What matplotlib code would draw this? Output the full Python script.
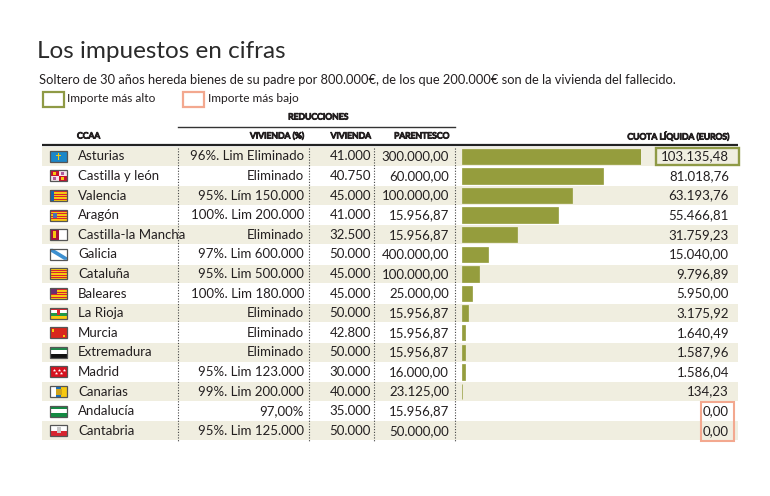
import matplotlib
matplotlib.use("Agg")
import matplotlib.pyplot as plt
import matplotlib.patheffects as pe
from matplotlib.patches import Rectangle, Polygon

plt.rcParams['font.family'] = ['Lato', 'DejaVu Sans']

# ---------------- data ----------------
ccaa = ["Asturias", "Castilla y león", "Valencia", "Aragón", "Castilla-la Mancha",
        "Galicia", "Cataluña", "Baleares", "La Rioja", "Murcia", "Extremadura",
        "Madrid", "Canarias", "Andalucía", "Cantabria"]
viv_pct = ["96%. Lim Eliminado", "Eliminado", "95%. Lím 150.000", "100%. Lim 200.000",
           "Eliminado", "97%. Lim 600.000", "95%. Lim 500.000", "100%. Lim 180.000",
           "Eliminado", "Eliminado", "Eliminado", "95%. Lim 123.000", "99%. Lim 200.000",
           "97,00%", "95%. Lim 125.000"]
vivienda = ["41.000", "40.750", "45.000", "41.000", "32.500", "50.000", "45.000", "45.000",
            "50.000", "42.800", "50.000", "30.000", "40.000", "35.000", "50.000"]
parentesco = ["300.000,00", "60.000,00", "100.000,00", "15.956,87", "15.956,87",
              "400.000,00", "100.000,00", "25.000,00", "15.956,87", "15.956,87",
              "15.956,87", "16.000,00", "23.125,00", "15.956,87", "50.000,00"]
cuota = [103135.48, 81018.76, 63193.76, 55466.81, 31759.23, 15040.00, 9796.89, 5950.00,
         3175.92, 1640.49, 1587.96, 1586.04, 134.23, 0.00, 0.00]

title = "Los impuestos en cifras"
subtitle = ("Soltero de 30 años hereda bienes de su padre por 800.000€, "
            "de los que 200.000€ son de la vivienda del fallecido.")

def fmt_es(v):
    s = f"{v:,.2f}"
    return s.replace(",", "X").replace(".", ",").replace("X", ".")

# ---------------- styles ----------------
W, H = 770, 496
TXT = "#231f20"
BEIGE = "#f0eee0"
BAR = "#959d3d"
GREEN = "#8f9a45"
PINK = "#f3a88f"

fig = plt.figure(figsize=(W / 100, H / 100), dpi=100)
fig.patch.set_facecolor("white")
ax = fig.add_axes([0, 0, 1, 1])
ax.set_xlim(0, W)
ax.set_ylim(H, 0)
ax.axis("off")

n = len(ccaa)
row_top = 146.5
rh = 19.6
def yc(i):
    return row_top + rh * (i + 0.5)

# title / subtitle
ax.text(37, 52, title, fontsize=17.5, fontweight="normal", color="#2a2a2a", va="center", ha="left")
ax.text(39, 80, subtitle, fontsize=9.3, color=TXT, va="center", ha="left")

# legend
ax.add_patch(Rectangle((42.5, 91.5), 21, 15, fill=False, ec=GREEN, lw=1.6))
ax.text(67, 99, "Importe más alto", fontsize=8.6, color=TXT, va="center", ha="left")
ax.add_patch(Rectangle((182.5, 91.5), 21, 15, fill=False, ec=PINK, lw=1.6))
ax.text(208, 99, "Importe más bajo", fontsize=8.6, color=TXT, va="center", ha="left")

# headers (heavy look via a thin stroke)
bold_fx = [pe.withStroke(linewidth=0.75, foreground=TXT)]
hkw = dict(fontsize=6.2, color=TXT, va="center", path_effects=bold_fx)
ax.text(318, 117, "REDUCCIONES", ha="center", **hkw)
ax.plot([178, 455], [126.5, 126.5], color="#333333", lw=1.0)
ax.text(77, 136, "CCAA", ha="left", **hkw)
ax.text(304, 136, "VIVIENDA (%)", ha="right", **hkw)
ax.text(371, 136, "VIVIENDA", ha="right", **hkw)
ax.text(449, 136, "PARENTESCO", ha="right", **hkw)
ax.text(729, 136, "CUOTA LÍQUIDA (EUROS)", ha="right", **hkw)
ax.plot([42, 738], [145, 145], color="#222222", lw=1.6, solid_capstyle="butt")

# row shading
for i in range(n):
    if i % 2 == 0:
        ax.add_patch(Rectangle((42, row_top + rh * i + 0.5), 696, rh - 1.0, fc=BEIGE, ec="none", zorder=0))

# dotted separators
for x in [178, 309, 374, 455]:
    ax.plot([x, x], [row_top + 1, row_top + rh * n], color="#444444", lw=0.8,
            ls=(0, (1, 1.5)), zorder=2)

# flags
def stripes(x, y, w, h, cols, vertical=False):
    k = len(cols)
    for j, c in enumerate(cols):
        if vertical:
            ax.add_patch(Rectangle((x + w * j / k, y), w / k, h, fc=c, ec="none", zorder=3))
        else:
            ax.add_patch(Rectangle((x, y + h * j / k), w, h / k, fc=c, ec="none", zorder=3))

def flag(name, i):
    w, h = 17, 11
    x = 50
    y = yc(i) - h / 2
    R, Y, WH = "#d8242f", "#f7c90f", "white"
    if name == "Asturias":
        stripes(x, y, w, h, ["#1b87c9"])
        ax.add_patch(Rectangle((x + 7.5, y + 2), 1.6, 7, fc=Y, ec="none", zorder=4))
        ax.add_patch(Rectangle((x + 5.5, y + 4), 5.6, 1.5, fc=Y, ec="none", zorder=4))
    elif name == "Castilla y león":
        for (dx, dy, c) in [(0, 0, "#c8102e"), (w / 2, 0, "#f4e4ea"), (0, h / 2, "#f4e4ea"), (w / 2, h / 2, "#c8102e")]:
            ax.add_patch(Rectangle((x + dx, y + dy), w / 2, h / 2, fc=c, ec="none", zorder=3))
        ax.add_patch(Rectangle((x + 2.5, y + 1.5), 3, 3, fc=Y, ec="none", zorder=4))
        ax.add_patch(Rectangle((x + 11, y + 6.5), 3, 3, fc=Y, ec="none", zorder=4))
        ax.add_patch(Rectangle((x + 11, y + 1.5), 3, 3, fc="#b05a9a", ec="none", zorder=4))
        ax.add_patch(Rectangle((x + 2.5, y + 6.5), 3, 3, fc="#b05a9a", ec="none", zorder=4))
    elif name == "Valencia":
        stripes(x, y, w, h, [Y, R, Y, R, Y, R, Y, R, Y])
        ax.add_patch(Rectangle((x, y), 4, h, fc="#1565b0", ec="none", zorder=4))
    elif name == "Aragón":
        stripes(x, y, w, h, [Y, R, Y, R, Y, R, Y, R, Y])
        ax.add_patch(Rectangle((x + 3, y + 3), 4, 5, fc="#4a6fb5", ec="none", zorder=4))
    elif name == "Castilla-la Mancha":
        stripes(x, y, w, h, ["#a8123e", WH], vertical=True)
        ax.add_patch(Rectangle((x + 2.5, y + 2), 3.5, 7, fc=Y, ec="none", zorder=4))
    elif name == "Galicia":
        stripes(x, y, w, h, [WH])
        ax.add_patch(Polygon([(x, y), (x + 3, y), (x + w, y + h - 2.5), (x + w, y + h),
                              (x + w - 3, y + h), (x, y + 2.5)], closed=True,
                             fc="#3b8fd0", ec="none", zorder=4))
    elif name == "Cataluña":
        stripes(x, y, w, h, [Y, R, Y, R, Y, R, Y, R, Y])
    elif name == "Baleares":
        stripes(x, y, w, h, [Y, R, Y, R, Y, R, Y, R, Y])
        ax.add_patch(Rectangle((x, y), 7, 5.5, fc="#6b2d6e", ec="none", zorder=4))
    elif name == "La Rioja":
        stripes(x, y, w, h, [R, WH, "#1e9a48", Y])
        ax.add_patch(Rectangle((x + 7, y + 2), 3, 5, fc="#d8242f", ec="none", zorder=4))
    elif name == "Murcia":
        stripes(x, y, w, h, ["#d9261c"])
        ax.add_patch(Rectangle((x + 1.5, y + 1.5), 2, 3, fc=Y, ec="none", zorder=4))
        ax.add_patch(Rectangle((x + 13, y + 7.5), 2, 2, fc=Y, ec="none", zorder=4))
    elif name == "Extremadura":
        stripes(x, y, w, h, ["#1f8a4a", WH, "#111111"])
    elif name == "Madrid":
        stripes(x, y, w, h, ["#d6121f"])
        for s in range(5):
            ax.plot(x + 3.5 + s * 2.5, y + 4 + (s % 2) * 2.5, marker="*", ms=2.5,
                    color="white", mec="none", zorder=4)
    elif name == "Canarias":
        stripes(x, y, w, h, [WH, "#1b6fb8", Y], vertical=True)
        ax.add_patch(Rectangle((x + 5.5, y + 2.5), 6, 6, fc="#cfa31b", ec="none", zorder=4))
    elif name == "Andalucía":
        stripes(x, y, w, h, ["#138a42", WH, "#138a42"])
    elif name == "Cantabria":
        stripes(x, y, w, h, [WH, "#d8242f"])
        ax.add_patch(Rectangle((x + 6.5, y + 2), 4, 6, fc="#c8c8c8", ec="none", zorder=4))
    ax.add_patch(Rectangle((x, y), w, h, fill=False, ec="#555555", lw=0.9, zorder=5))

rfs = 9.5
for i in range(n):
    y = yc(i)
    flag(ccaa[i], i)
    ax.text(78, y, ccaa[i], fontsize=rfs, color=TXT, ha="left", va="center")
    ax.text(304, y, viv_pct[i], fontsize=rfs, color=TXT, ha="right", va="center")
    ax.text(371, y, vivienda[i], fontsize=rfs, color=TXT, ha="right", va="center")
    ax.text(449, y, parentesco[i], fontsize=rfs, color=TXT, ha="right", va="center")
    ax.text(729, y, fmt_es(cuota[i]), fontsize=rfs, color=TXT, ha="right", va="center")

# highlight boxes
imax = max(range(n), key=lambda k: cuota[k])
ax.add_patch(Rectangle((655.5, row_top + rh * imax + 1), 83, rh - 2, fill=False,
                       ec=GREEN, lw=1.7, zorder=6))
zero_rows = [k for k in range(n) if cuota[k] == min(cuota)]
ax.add_patch(Rectangle((700.5, row_top + rh * zero_rows[0] + 1), 33,
                       rh * len(zero_rows) - 1, fill=False, ec=PINK, lw=1.5, zorder=6))

# bars in their own axes, scaled by the data
bar_left, bar_full = 462, 179
bax = fig.add_axes([bar_left / W, (H - (row_top + rh * n)) / H, bar_full / W, rh * n / H])
bax.barh(range(n), cuota, height=0.78, color=BAR, edgecolor=BAR,
         linewidth=[0.5 if v > 0 else 0 for v in cuota])
bax.set_xlim(0, max(cuota))
bax.set_ylim(n - 0.5, -0.5)
bax.axis("off")
bax.patch.set_alpha(0)

fig.savefig("out.png", dpi=100)
